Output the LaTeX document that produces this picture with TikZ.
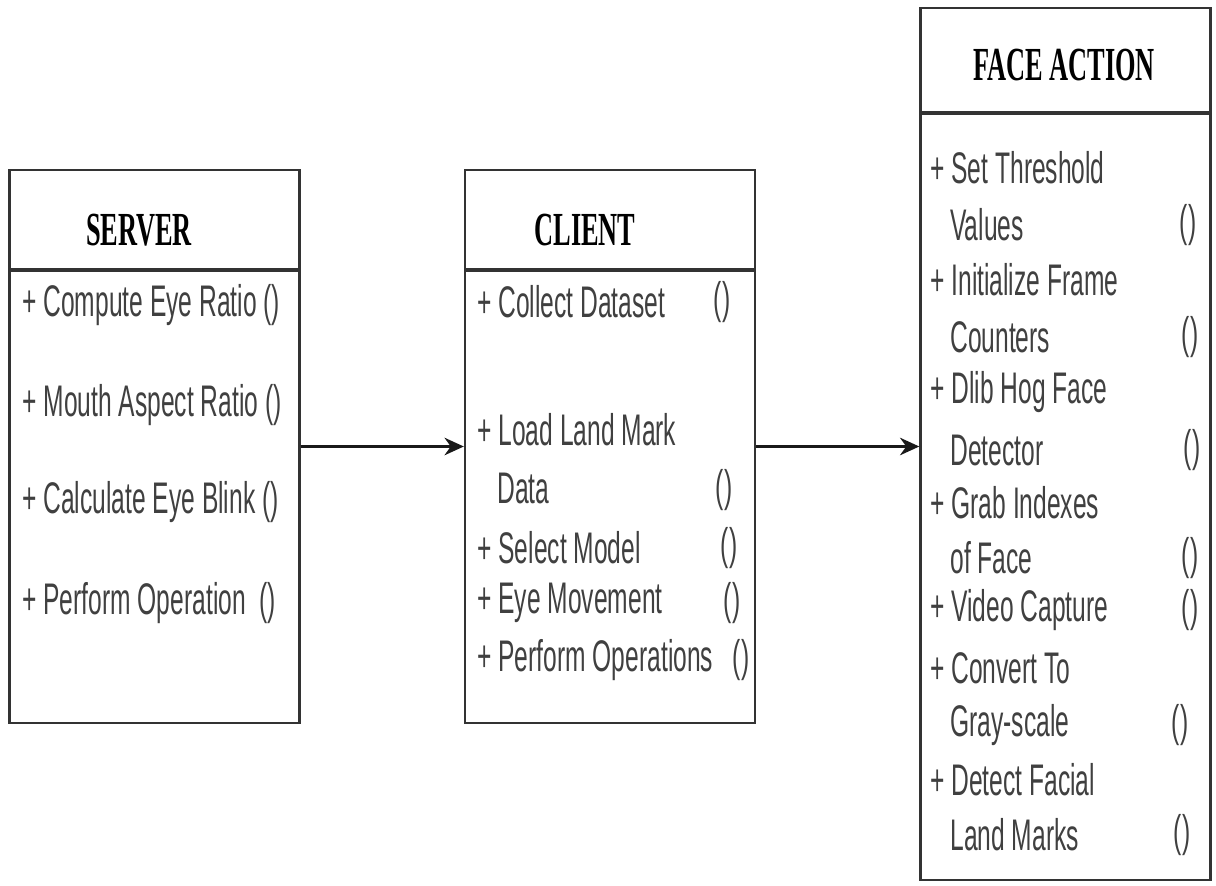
\documentclass[tikz,border=0pt]{standalone}
\usepackage{fontspec}
\usepackage{graphicx}
\usetikzlibrary{arrows.meta}
\newfontfamily\opfont{Liberation Sans}
\newfontfamily\titlefont{Liberation Serif}
\newcommand{\vstretch}[1]{\scalebox{1}[1.8]{#1}}
\begin{document}
\begin{tikzpicture}[
    x=0.02cm, y=-0.02cm,
    classbox/.style={rectangle, draw=black!80, line width=1.4pt, inner sep=0pt, minimum width=5.8cm},
    divider/.style={draw=black!80, line width=2pt},
    title/.style={inner sep=0pt, font=\titlefont\bfseries\fontsize{15}{18}\selectfont, text=black},
    op/.style={anchor=west, inner sep=0pt, font=\opfont\fontsize{14}{17}\selectfont, text=black!75},
    paren/.style={op, anchor=center},
    arrow/.style={->, >={Stealth[length=11pt, width=10pt]}, line width=1.3pt, black!90}
]
\useasboundingbox (0,0) rectangle (1216,885);
% Server class
\node[classbox, minimum height=11.06cm] (server) at (154.5,446.5) {};
\draw[divider] (10,270) -- (299,270);
\node[title] (st) at (139,230) {\vstretch{SERVER}};
\node[op] (s1) at (22,305) {\vstretch{+ Compute Eye Ratio ()}};
\node[op] (s2) at (22,405) {\vstretch{+ Mouth Aspect Ratio ()}};
\node[op] (s3) at (22,502) {\vstretch{+ Calculate Eye Blink ()}};
\node[op] (s4) at (22,603) {\vstretch{+ Perform Operation\ \ ()}};
% Client class
\node[classbox, minimum height=11.06cm] (client) at (610,446.5) {};
\draw[divider] (465,270) -- (755,270);
\node[title] (ct) at (585,230) {\vstretch{CLIENT}};
\node[op] (c1) at (477,302) {\vstretch{+ Collect Dataset}};
\node[paren] (c1p) at (722,302) {\vstretch{()}};
\node[op] (c2) at (477,430) {\vstretch{+ Load Land Mark}};
\node[op] (c2b) at (497,488) {\vstretch{Data}};
\node[paren] (c2p) at (724,490) {\vstretch{()}};
\node[op] (c3) at (477,548) {\vstretch{+ Select Model}};
\node[paren] (c3p) at (729,548) {\vstretch{()}};
\node[op] (c4) at (477,603) {\vstretch{+ Eye Movement}};
\node[paren] (c4p) at (732,603) {\vstretch{()}};
\node[op] (c5) at (477,660) {\vstretch{+ Perform Operations}};
\node[paren] (c5p) at (741,660) {\vstretch{()}};
% Face action class
\node[classbox, minimum height=17.44cm] (face) at (1065.5,444) {};
\draw[divider] (920,113) -- (1211,113);
\node[title] (ft) at (1064,65) {\vstretch{FACE ACTION}};
\node[op] (f1) at (930,168) {\vstretch{+ Set Threshold}};
\node[op] (f1b) at (950,225) {\vstretch{Values}};
\node[paren] (f1p) at (1188,225) {\vstretch{()}};
\node[op] (f2) at (930,280) {\vstretch{+ Initialize Frame}};
\node[op] (f2b) at (950,337) {\vstretch{Counters}};
\node[paren] (f2p) at (1190,337) {\vstretch{()}};
\node[op] (f3) at (930,392) {\vstretch{+ Dlib Hog Face}};
\node[op] (f3b) at (950,450) {\vstretch{Detector}};
\node[paren] (f3p) at (1192,450) {\vstretch{()}};
\node[op] (f4) at (930,503) {\vstretch{+ Grab Indexes}};
\node[op] (f4b) at (950,558) {\vstretch{of Face}};
\node[paren] (f4p) at (1190,558) {\vstretch{()}};
\node[op] (f5) at (930,610) {\vstretch{+ Video Capture}};
\node[paren] (f5p) at (1190,610) {\vstretch{()}};
\node[op] (f6) at (930,668) {\vstretch{+ Convert To}};
\node[op] (f6b) at (950,725) {\vstretch{Gray-scale}};
\node[paren] (f6p) at (1180,725) {\vstretch{()}};
\node[op] (f7) at (930,780) {\vstretch{+ Detect Facial}};
\node[op] (f7b) at (950,835) {\vstretch{Land Marks}};
\node[paren] (f7p) at (1182,835) {\vstretch{()}};
% Connectors
\draw[arrow] (server.east) -- (client.west);
\draw[arrow] (client.east) -- (client.east -| face.west);
\end{tikzpicture}
\end{document}
